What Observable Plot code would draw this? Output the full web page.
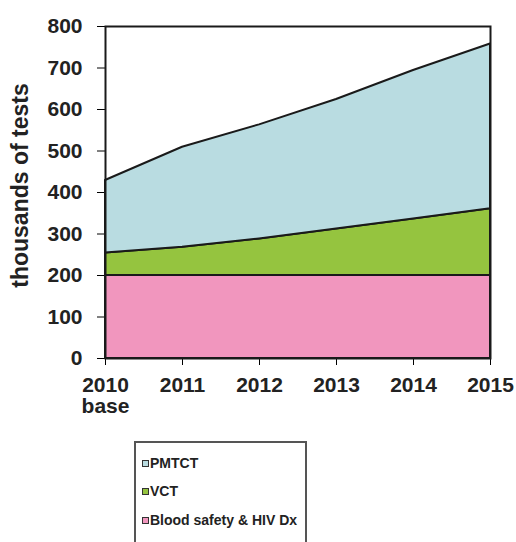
<!DOCTYPE html>
<html>
<head>
<meta charset="utf-8">
<script src="https://cdn.jsdelivr.net/npm/d3@7"></script>
<script src="https://cdn.jsdelivr.net/npm/@observablehq/plot@0.6"></script>
<style>
  html, body { margin: 0; padding: 0; background: #fff; width: 516px; height: 542px; overflow: hidden; }
  #chart svg { display: block; }
  #chart svg text { font-family: "Liberation Sans", Arial, sans-serif; font-weight: bold; font-size: 21px; fill: #222; }
  #chart svg text.ylabel { font-size: 23px; }
  .legend {
    position: absolute; left: 134px; top: 441px; width: 169px; height: 120px;
    border: 2px solid #555; background: #fff;
    font-family: "Liberation Sans", Arial, sans-serif; font-weight: bold; font-size: 14px; color: #222;
  }
  .legend .item { position: absolute; left: 6px; display: flex; align-items: center; height: 14px; white-space: nowrap; }
  .legend .sw { width: 5px; height: 5px; border: 1px solid #333; margin-right: 1px; }
</style>
</head>
<body>
<div id="chart"></div>
<script>
// Projected HIV test volumes (thousands), stacked by programme
const years = [2010, 2011, 2012, 2013, 2014, 2015];
const yearLabels = ["2010\nbase", "2011", "2012", "2013", "2014", "2015"];
const series = ["Blood safety & HIV Dx", "VCT", "PMTCT"];
const bloodSafety = [200, 200, 200, 200, 200, 200];
const vct = [54, 68, 88, 112, 136, 161];
const pmtct = [175, 241, 275, 312, 358, 397];
const colors = ["#f196be", "#95c43f", "#b9dce1"];
const yTicks = [0, 100, 200, 300, 400, 500, 600, 700, 800];
const yLabel = "thousands of tests";

// Long-format rows, bottom layer first so the stack follows this order
const seriesValues = [bloodSafety, vct, pmtct];
const rows = [];
series.forEach((s, k) => {
  years.forEach((yr, i) => rows.push({series: s, year: yr, value: seriesValues[k][i]}));
});

const chart = Plot.plot({
  width: 516,
  height: 430,
  marginLeft: 105,
  marginRight: 26,
  marginTop: 26,
  marginBottom: 72,
  x: {
    domain: [2010, 2015],
    ticks: years,
    tickFormat: d => yearLabels[years.indexOf(d)],
    tickSize: 7,
    tickPadding: 12,
    label: null
  },
  y: {
    domain: [0, 800],
    ticks: yTicks,
    tickSize: 8,
    tickPadding: 15,
    label: null
  },
  color: {domain: series, range: colors},
  marks: [
    Plot.areaY(rows, {x: "year", y: "value", z: "series", fill: "series", stroke: "#1a1a1a", strokeWidth: 2}),
    Plot.frame({stroke: "#1a1a1a", strokeWidth: 2}),
    Plot.text([yLabel], {frameAnchor: "left", textAnchor: "middle", dx: -85, dy: -7, rotate: -90, text: d => d, className: "ylabel"})
  ]
});
document.getElementById("chart").appendChild(chart);
chart.querySelectorAll("g[aria-label='text'] text").forEach(t => t.classList.add("ylabel"));

// Legend box below the chart, top row = top layer
const legend = document.createElement("div");
legend.className = "legend";
const rowTops = [13, 41, 70];
[2, 1, 0].forEach((k, j) => {
  const item = document.createElement("div");
  item.className = "item";
  item.style.top = rowTops[j] + "px";
  const sw = document.createElement("span");
  sw.className = "sw";
  sw.style.background = colors[k];
  const label = document.createElement("span");
  label.textContent = series[k];
  item.appendChild(sw);
  item.appendChild(label);
  legend.appendChild(item);
});
document.body.appendChild(legend);
</script>
</body>
</html>
